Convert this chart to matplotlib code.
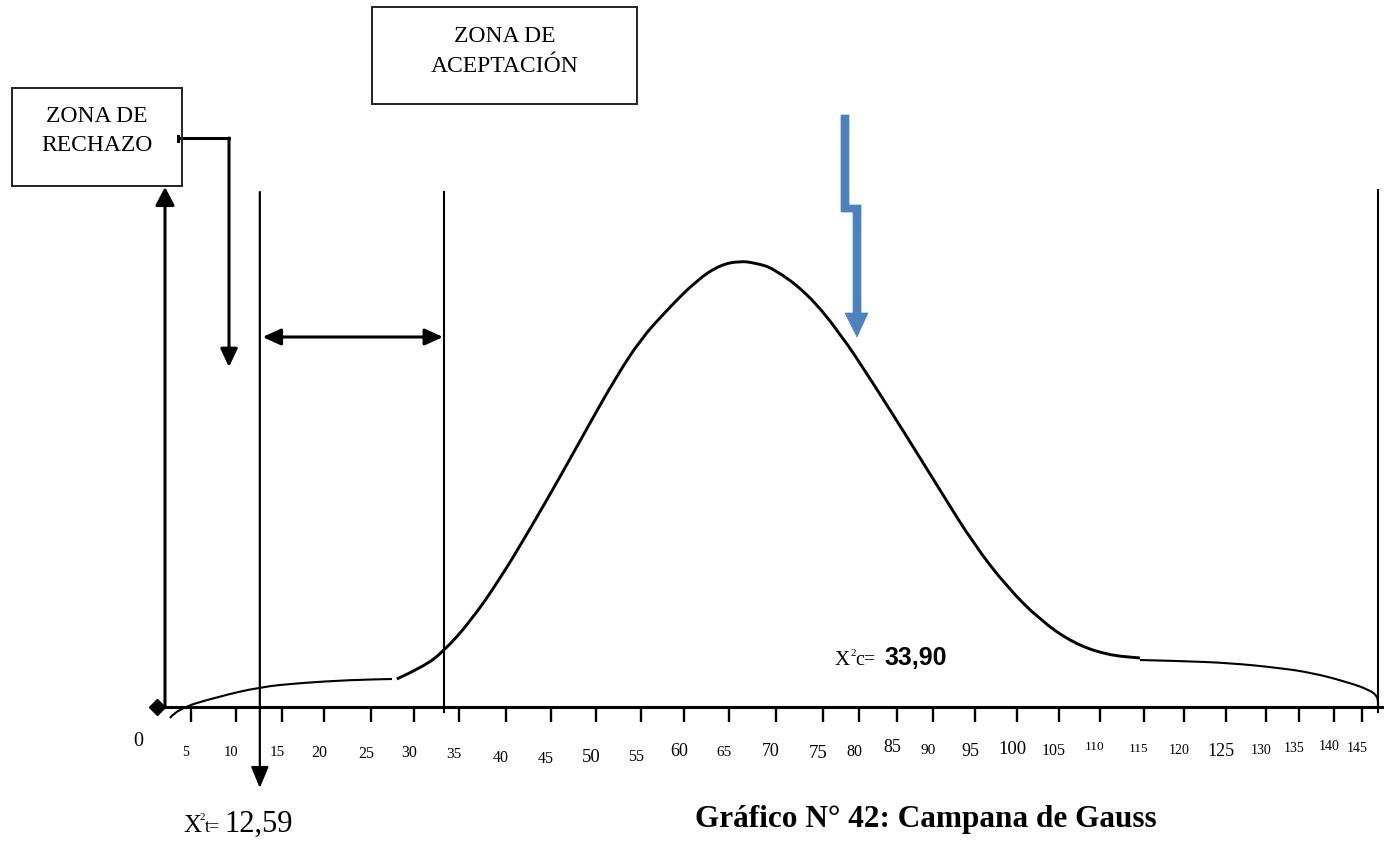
import numpy as np
import matplotlib.pyplot as plt
from matplotlib.patches import Rectangle, Polygon, PathPatch
from matplotlib.path import Path

plt.rcParams['font.family'] = ['Liberation Serif', 'DejaVu Serif']

W, H = 1384, 843
BASE = 707  # fila (px) donde va el eje horizontal

# Valores del eje horizontal (chi cuadrado) y sus etiquetas
valores_eje = [5, 10, 15, 20, 25, 30, 35, 40, 45, 50, 55, 60, 65, 70, 75,
               80, 85, 90, 95, 100, 105, 110, 115, 120, 125, 130, 135, 140, 145]
etiquetas_eje = [str(v) for v in valores_eje]

# Curva (x en unidades de chi cuadrado, y = altura sobre el eje)
cola_izq_x = [2.56, 3.37, 7.89, 12.61, 17.14, 22.77, 27.44]
cola_izq_y = [-11, -2, 10, 20, 24, 27, 28]

campana_x = [28.0, 31.0, 33.22, 36.17, 39.36, 42.67, 46.0, 49.33, 52.11, 54.89,
             58.02, 61.44, 63.99, 66.17, 67.77, 69.68, 73.30, 77.36, 81.84,
             86.39, 90.83, 94.76, 98.81, 102.74, 106.71, 110.80, 114.55]
campana_y = [28, 40, 55, 85, 128, 178, 230, 284, 328, 367,
             397, 427, 442, 446, 444, 439, 414, 374, 324,
             270, 217, 164, 120, 87, 64, 52, 49]

cola_der_x = [114.55, 119.5, 125.5, 132.12, 137.0, 142.32, 146.43, 147.86, 147.86]
cola_der_y = [47, 46, 44, 39, 34, 25, 17, 10, -1]

chi_tabla = 12.59
chi_calc = "33,90"
limite_acept = 33.3
borde_der = 147.9

# --- ubicacion de las marcas en el dibujo original (la escala no es pareja)
pos_marcas = [191, 236, 282, 324, 371, 414, 459, 506, 551, 596, 641, 684, 729,
              776, 823, 859, 897, 933, 975, 1017, 1059, 1100, 1144, 1184, 1226,
              1266, 1299, 1334, 1362]
nudo_v = np.array([-20, 0] + valores_eje + [150, 155], dtype=float)
nudo_p = np.array([-24, 148] + pos_marcas + [1390, 1418], dtype=float)


def fwd(v):
    return np.interp(v, nudo_v, nudo_p)


def inv(p):
    return np.interp(p, nudo_p, nudo_v)


def curva_suave(ax, xs, ys, lw):
    # trazo suave: los puntos leidos hacen de puntos de control
    pts = list(zip(xs, ys))
    verts = [pts[0]]
    codes = [Path.MOVETO]
    for i in range(1, len(pts) - 1):
        # punto medio tomado en la posicion dibujada, no en el valor
        mx = inv((fwd(pts[i][0]) + fwd(pts[i + 1][0])) / 2)
        my = (pts[i][1] + pts[i + 1][1]) / 2
        verts += [pts[i], (float(mx), my)]
        codes += [Path.CURVE3, Path.CURVE3]
    verts.append(pts[-1])
    codes.append(Path.LINETO)
    ax.add_patch(PathPatch(Path(verts, codes), fill=False, lw=lw, ec='black',
                           capstyle='butt'))


# tamaños y alturas de las etiquetas del eje
tam_etiq = [10, 10.5, 11, 11.5, 11.5, 11.5, 11, 11.5, 11.5, 13.5, 11.5, 13, 11, 13,
            13.5, 11.5, 13, 11, 13, 13.5, 11.5, 9.5, 9.5, 10, 13, 10, 10, 10, 10]
fila_etiq = [752, 752, 752, 753, 754, 753, 754, 758, 759, 757, 757, 751, 752, 751,
             753, 752, 748, 751, 751, 750, 751, 747, 749, 750, 751, 750, 749, 747, 748]

fig = plt.figure(figsize=(W / 100, H / 100), dpi=100)
ax = fig.add_axes([0, 0, 1, 1])
ax.set_xscale('function', functions=(fwd, inv))
ax.set_xlim(inv(0), inv(W))
ax.set_ylim(BASE - H, BASE)
ax.axis('off')

# curva
curva_suave(ax, cola_izq_x, cola_izq_y, 1.5)
curva_suave(ax, campana_x, campana_y, 2.1)
curva_suave(ax, cola_der_x, cola_der_y, 1.5)

# eje horizontal con marcas
ax.plot([inv(157), inv(W)], [0, 0], color='black', lw=2.2)
ax.plot(inv(157), 0, marker='D', ms=8.5, color='black')
ax.vlines(valores_eje, -15, 0, color='black', lw=1.7)
for v, lab, s, f in zip(valores_eje, etiquetas_eje, tam_etiq, fila_etiq):
    ax.annotate(lab, xy=(v, BASE - f), xytext=(-5, 0), textcoords='offset pixels',
                ha='center', va='center', fontsize=s)
ax.text(inv(138), BASE - 742, "0", ha='center', va='center', fontsize=14.5)

# lineas verticales
ax.annotate('', xy=(chi_tabla, BASE - 788), xytext=(chi_tabla, BASE - 192),
            arrowprops=dict(arrowstyle='-|>,head_length=0.65,head_width=0.27',
                            mutation_scale=20, lw=1.6, color='black',
                            shrinkA=0, shrinkB=0))
ax.plot([limite_acept, limite_acept], [BASE - 192, -5], color='black', lw=1.5)
ax.plot([borde_der, borde_der], [BASE - 190, -5], color='black', lw=1.5)

# flecha doble zona de aceptacion
ax.annotate('', xy=(limite_acept, BASE - 337), xytext=(chi_tabla, BASE - 337),
            arrowprops=dict(arrowstyle='<|-|>,head_length=0.55,head_width=0.25',
                            mutation_scale=20, lw=2.2, color='black',
                            shrinkA=2, shrinkB=0.5))

# flecha vertical izquierda hacia la caja de rechazo
ax.annotate('', xy=(inv(165), BASE - 187), xytext=(inv(165), 0),
            arrowprops=dict(arrowstyle='-|>,head_length=0.55,head_width=0.29',
                            mutation_scale=20, lw=2.2, color='black',
                            shrinkA=0, shrinkB=0))

# conector desde la caja de rechazo
ax.plot([inv(178), inv(178)], [BASE - 136, BASE - 141], color='black', lw=2.2)
ax.plot([inv(178), inv(229)], [BASE - 138, BASE - 138], color='black', lw=2.2,
        solid_capstyle='projecting')
ax.annotate('', xy=(inv(229), BASE - 367), xytext=(inv(229), BASE - 138),
            arrowprops=dict(arrowstyle='-|>,head_length=0.55,head_width=0.26',
                            mutation_scale=20, lw=2.2, color='black',
                            shrinkA=0, shrinkB=0))

# --- capa para cajas y textos (en px)
lay = fig.add_axes([0, 0, 1, 1], facecolor='none')
lay.set_xlim(0, W)
lay.set_ylim(H, 0)
lay.axis('off')

lay.add_patch(Rectangle((12, 88), 170, 98, fill=False, lw=1.4, ec='#222222'))
lay.text(97, 122, "ZONA DE", ha='center', va='baseline', fontsize=17)
lay.text(97, 151, "RECHAZO", ha='center', va='baseline', fontsize=17)

lay.add_patch(Rectangle((372, 7), 265, 97, fill=False, lw=1.4, ec='#222222'))
lay.text(505, 42, "ZONA DE", ha='center', va='baseline', fontsize=17)
lay.text(505, 72, "ACEPTACIÓN", ha='center', va='baseline', fontsize=17)

# flecha azul
flecha = [(841, 115), (849, 115), (849, 205), (861, 205), (861, 313), (868, 313),
          (857, 337), (845, 313), (853, 313), (853, 212), (841, 212)]
lay.add_patch(Polygon(flecha, closed=True, fc='#4F81BD', ec='#4F81BD', lw=0.5))

# valores de chi cuadrado
lay.text(183, 832, "X", fontsize=18, va='baseline')
lay.text(200, 820, "2", fontsize=8, va='baseline')
lay.text(205, 832, "t=", fontsize=13, va='baseline')
lay.text(224, 832, "12,59", fontsize=22, va='baseline')

lay.text(835, 665, "X", fontsize=15, va='baseline')
lay.text(851, 656, "2", fontsize=8, va='baseline')
lay.text(855, 665, "c=", fontsize=14.5, va='baseline')
lay.text(884, 665, chi_calc, fontsize=18, va='baseline', fontweight='bold',
         family=['Liberation Sans', 'DejaVu Sans'])

lay.text(695, 827, "Gráfico N° 42: Campana de Gauss", fontsize=22.5,
         fontweight='bold', va='baseline')

fig.savefig('out.png', dpi=100)
